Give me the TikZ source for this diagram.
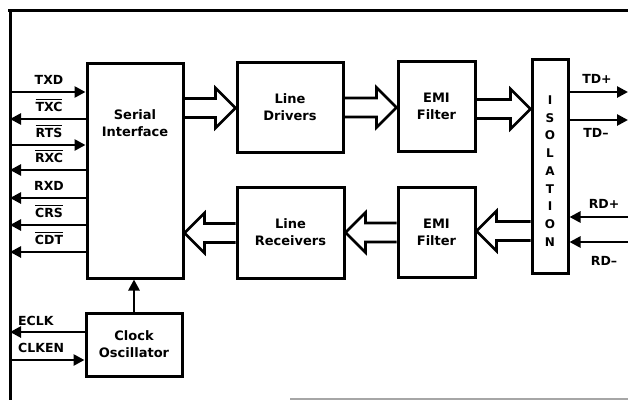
\documentclass[tikz,border=0pt]{standalone}
\usepackage{fontspec}
\setmainfont{DejaVu Sans}
\usetikzlibrary{arrows.meta,calc}

% overlined signal name
\newcommand{\ovl}[1]{\sbox0{#1}\rlap{\rule[\dimexpr\ht0+1.6pt\relax]{\wd0}{1.5pt}}\usebox0}
% hollow bus arrow from #1 to #2, #3 = +1 (right) or -1 (left)
\newcommand{\fatarrow}[3]{%
  \draw[bus] let \p1=(#1), \p2=(#2) in
    (\x1,\y1+9.5pt) -- (\x2-#3*20pt,\y1+9.5pt) -- (\x2-#3*20pt,\y1+20pt) -- (\x2,\y1)
    -- (\x2-#3*20pt,\y1-20pt) -- (\x2-#3*20pt,\y1-9.5pt) -- (\x1,\y1-9.5pt);}

\begin{document}
\begin{tikzpicture}[x=1pt,y=-1pt,
  box/.style={draw,line width=3pt,inner sep=0pt},
  txt/.style={font=\fontsize{13}{17}\selectfont\bfseries,align=center},
  lbl/.style={font=\fontsize{12.5}{14}\selectfont\bfseries,inner sep=0pt},
  sig/.style={line width=2.6pt,-{Triangle[length=11pt,width=11pt]}},
  bus/.style={line width=2.6pt,line join=miter},
  frame/.style={line width=3pt}]
\useasboundingbox (0,0) rectangle (628,400);
% frame
\coordinate (BL) at (10,10);
\coordinate (RE) at (628,10);
\draw[frame] (8,10) -- (RE);
\draw[frame] (BL) -- (10,400);
\draw[line width=1.2pt,gray!70] (290,399) -- (628,399);
% blocks
\node[box,minimum width=96pt,minimum height=215pt] (SI) at (135,170.5) {};
\node[txt] at (135,123) {Serial\\Interface};
\node[box,txt,minimum width=96pt,minimum height=63pt] (CO) at (134,344.5) {Clock\\Oscillator};
\node[box,txt,minimum width=106pt,minimum height=90pt] (LD) at (290,107) {Line\\Drivers};
\node[box,txt,minimum width=107pt,minimum height=91pt] (LR) at (290.5,232.5) {Line\\Receivers};
\node[box,txt,minimum width=77pt,minimum height=90pt] (EF1) at (436.5,106) {EMI\\Filter};
\node[box,txt,minimum width=77pt,minimum height=90pt] (EF2) at (436.5,232) {EMI\\Filter};
\node[box,minimum width=36pt,minimum height=214pt] (ISO) at (550,166) {};
\node[font=\fontsize{12}{17.75}\selectfont\bfseries,align=center,inner sep=0pt]
  at (550,171) {I\\S\\O\\L\\A\\T\\I\\O\\N};
% bus arrows
\fatarrow{SI.east |- 0,108}{LD.west |- 0,108}{1}
\fatarrow{LD.east |- 0,107.5}{EF1.west |- 0,107.5}{1}
\fatarrow{EF1.east |- 0,109}{ISO.west |- 0,109}{1}
\fatarrow{ISO.west |- 0,231}{EF2.east |- 0,231}{-1}
\fatarrow{EF2.west |- 0,232.5}{LR.east |- 0,232.5}{-1}
\fatarrow{LR.west |- 0,233}{SI.east |- 0,233}{-1}
% serial signals
\foreach \y/\name in {92/TXD,145/\ovl{RTS}}{
  \draw[sig] (BL |- 0,\y) -- (SI.west |- 0,\y);
  \node[lbl,anchor=base] at (49,\y-8) {\name};
}
\foreach \y/\name in {119/\ovl{TXC},170/\ovl{RXC},198/RXD,225/\ovl{CRS},252/\ovl{CDT}}{
  \draw[sig] (SI.west |- 0,\y) -- (BL |- 0,\y);
  \node[lbl,anchor=base] at (49,\y-8) {\name};
}
% clock
\draw[sig] (CO.north) -- (CO.north |- SI.south);
\draw[sig] (CO.west |- 0,332) -- (BL |- 0,332);
\draw[sig] (BL |- 0,360) -- (CO.west |- 0,360);
\node[lbl,anchor=base west] at (18,325) {ECLK};
\node[lbl,anchor=base west] at (18,352) {CLKEN};
% line side
\draw[sig] (ISO.east |- 0,92) -- (RE |- 0,92);
\draw[sig] (ISO.east |- 0,120) -- (RE |- 0,120);
\draw[sig] (RE |- 0,217) -- (ISO.east |- 0,217);
\draw[sig] (RE |- 0,242) -- (ISO.east |- 0,242);
\node[lbl,anchor=base] at (597,83) {TD+};
\node[lbl,anchor=base] at (596,137) {TD--};
\node[lbl,anchor=base] at (604,208) {RD+};
\node[lbl,anchor=base] at (604,265) {RD--};
\end{tikzpicture}
\end{document}
